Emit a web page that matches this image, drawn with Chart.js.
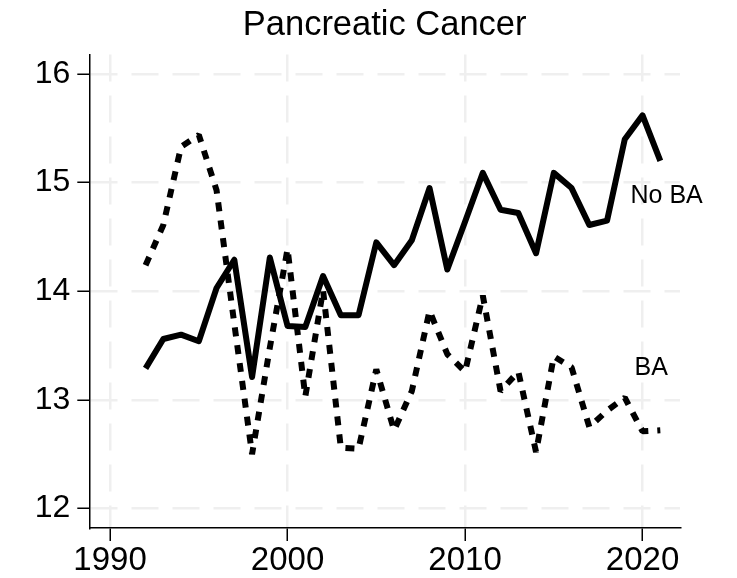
<!DOCTYPE html>
<html>
<head>
<meta charset="utf-8">
<title>Pancreatic Cancer</title>
<script src="https://cdn.jsdelivr.net/npm/chart.js@4/dist/chart.umd.min.js"></script>
<style>
    html, body { margin: 0; padding: 0; background: #fff; }
</style>
</head>
<body>
<canvas id="chart" width="737" height="578"></canvas>
<script>
// Data
const years = [1992, 1993, 1994, 1995, 1996, 1997, 1998, 1999, 2000, 2001,
               2002, 2003, 2004, 2005, 2006, 2007, 2008, 2009, 2010, 2011,
               2012, 2013, 2014, 2015, 2016, 2017, 2018, 2019, 2020, 2021];
const noBA = [13.29, 13.56, 13.60, 13.54, 14.03, 14.29, 13.21, 14.31, 13.68, 13.67,
              14.14, 13.78, 13.78, 14.45, 14.24, 14.47, 14.95, 14.20, 14.64, 15.09,
              14.75, 14.72, 14.35, 15.09, 14.95, 14.61, 14.65, 15.40, 15.62, 15.20];
const ba = [14.24, 14.61, 15.33, 15.44, 14.93, 13.70, 12.50, 13.48, 14.39, 13.03,
            14.01, 12.56, 12.55, 13.28, 12.72, 13.08, 13.82, 13.42, 13.26, 13.96,
            13.08, 13.26, 12.52, 13.40, 13.30, 12.75, 12.90, 13.02, 12.71, 12.72];
const xTicks = [1990, 2000, 2010, 2020];
const yTicks = [12, 13, 14, 15, 16];
const seriesNames = ["No BA", "BA"];
const chartTitle = "Pancreatic Cancer";

const FONT = '"Liberation Sans", Arial, sans-serif';

// where the series names sit, in data units
const labelSpots = [[2019.32, 14.88], [2019.55, 13.29]];

const toPoints = vals => vals.map((v, i) => ({ x: years[i], y: v }));

// Title, centred over the plot region
const titlePlugin = {
    id: "plotTitle",
    afterDraw(chart) {
        const { ctx, chartArea } = chart;
        ctx.save();
        ctx.font = "34.5px " + FONT;
        ctx.fillStyle = "#000";
        ctx.textAlign = "center";
        ctx.textBaseline = "alphabetic";
        ctx.fillText(chartTitle, (chartArea.left + chartArea.right) / 2, 35);
        ctx.restore();
    }
};

// Series names next to the lines
const seriesLabelPlugin = {
    id: "seriesLabels",
    afterDatasetsDraw(chart) {
        const { ctx, scales: { x, y } } = chart;
        ctx.save();
        ctx.font = "25px " + FONT;
        ctx.fillStyle = "#000";
        ctx.textAlign = "left";
        ctx.textBaseline = "middle";
        labelSpots.forEach((p, i) => {
            ctx.fillText(seriesNames[i], x.getPixelForValue(p[0]), y.getPixelForValue(p[1]));
        });
        ctx.restore();
    }
};

const gridOpts = {
    color: "#efefef",
    lineWidth: 2.5,
    tickColor: "#000",
    tickLength: 12,
    tickWidth: 1.5,
    tickBorderDash: []
};

new Chart(document.getElementById("chart").getContext("2d"), {
    type: "line",
    data: {
        datasets: [
            {
                label: seriesNames[0],
                data: toPoints(noBA),
                borderColor: "#000",
                borderWidth: 6,
                borderJoinStyle: "round",
                pointRadius: 0,
                tension: 0,
                fill: false
            },
            {
                label: seriesNames[1],
                data: toPoints(ba),
                borderColor: "#000",
                borderWidth: 6,
                borderDash: [9, 9],
                borderCapStyle: "butt",
                borderJoinStyle: "bevel",
                pointRadius: 0,
                tension: 0,
                fill: false
            }
        ]
    },
    options: {
        responsive: false,
        animation: false,
        layout: { padding: { left: 0, right: 57, top: 54.5, bottom: 0 } },
        plugins: {
            legend: { display: false },
            tooltip: { enabled: false },
            title: { display: false }
        },
        scales: {
            x: {
                type: "linear",
                min: 1988.83,
                max: 2022.11,
                afterBuildTicks: s => { s.ticks = xTicks.map(v => ({ value: v })); },
                afterFit: s => { s.height = 50; },
                grid: Object.assign({}, gridOpts, { tickLength: 13 }),
                border: { color: "#000", width: 1.5, dash: [27, 14] },
                ticks: {
                    color: "#000",
                    font: { family: FONT, size: 33 },
                    padding: 0,
                    maxRotation: 0,
                    autoSkip: false,
                    callback: v => String(v)
                }
            },
            y: {
                min: 11.82,
                max: 16.18,
                afterBuildTicks: s => { s.ticks = yTicks.map(v => ({ value: v })); },
                afterFit: s => { s.width = 89.3; },
                grid: gridOpts,
                border: { color: "#000", width: 1.5, dash: [27, 14] },
                ticks: {
                    color: "#000",
                    font: { family: FONT, size: 32 },
                    padding: 7,
                    autoSkip: false,
                    callback: v => String(v)
                }
            }
        }
    },
    plugins: [titlePlugin, seriesLabelPlugin]
});
</script>
</body>
</html>
